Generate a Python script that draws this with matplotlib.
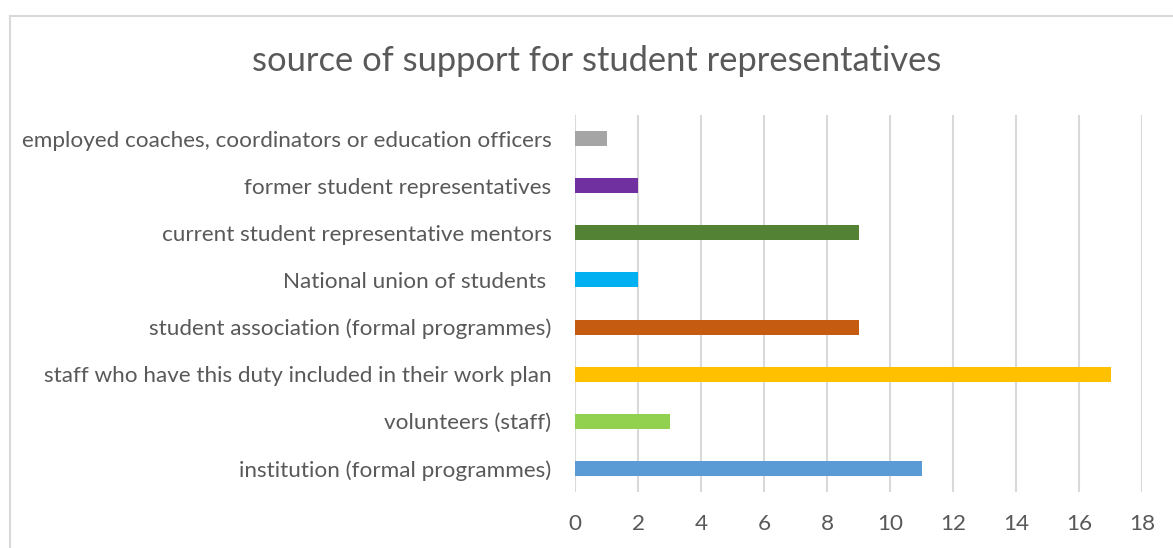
import matplotlib.pyplot as plt
from matplotlib.lines import Line2D

# Support sources, bottom to top as they appear on the chart
categories = [
    'institution (formal programmes)',
    'volunteers (staff)',
    'staff who have this duty included in their work plan',
    'student association (formal programmes)',
    'National union of students ',
    'current student representative mentors',
    'former student representatives',
    'employed coaches, coordinators or education officers',
]
counts = [11, 3, 17, 9, 2, 9, 2, 1]
bar_colors = ['#5B9BD5', '#92D050', '#FFC000', '#C55A11',
              '#00B0F0', '#548235', '#7030A0', '#A5A5A5']
x_ticks = [0, 2, 4, 6, 8, 10, 12, 14, 16, 18]

plt.rcParams['font.family'] = ['Lato', 'DejaVu Sans']
text_color = '#595959'
grid_color = '#D9D9D9'

fig = plt.figure(figsize=(11.73, 5.48), dpi=100)
ax = fig.add_axes([0.4902, 0.1022, 0.4834, 0.6879])

ax.barh(range(len(categories)), counts, height=0.32, color=bar_colors, zorder=3)

ax.set_xlim(0, 18)
ax.set_ylim(-0.5, len(categories) - 0.5)
ax.set_xticks(x_ticks)
ax.set_yticks(range(len(categories)))
ax.set_yticklabels(categories)
ax.tick_params(axis='both', length=0, colors=text_color, labelsize=16.2)
ax.tick_params(axis='y', pad=17)
ax.tick_params(axis='x', pad=16)
ax.grid(axis='x', color=grid_color, linewidth=1.5, zorder=0)
for spine in ax.spines.values():
    spine.set_visible(False)

fig.text(0.509, 0.888, 'source of support for student representatives',
         ha='center', va='center', fontsize=24.8, color=text_color)

# Chart-area border (runs off the right and bottom edges)
fx0, fy0 = 9.5 / 1173, 1 - 15.5 / 548
fig.add_artist(Line2D([fx0, fx0], [fy0, -0.01], transform=fig.transFigure,
                      color=grid_color, linewidth=1.5))
fig.add_artist(Line2D([fx0, 1.01], [fy0, fy0], transform=fig.transFigure,
                      color=grid_color, linewidth=1.5))

fig.savefig('out.png', dpi=100)
